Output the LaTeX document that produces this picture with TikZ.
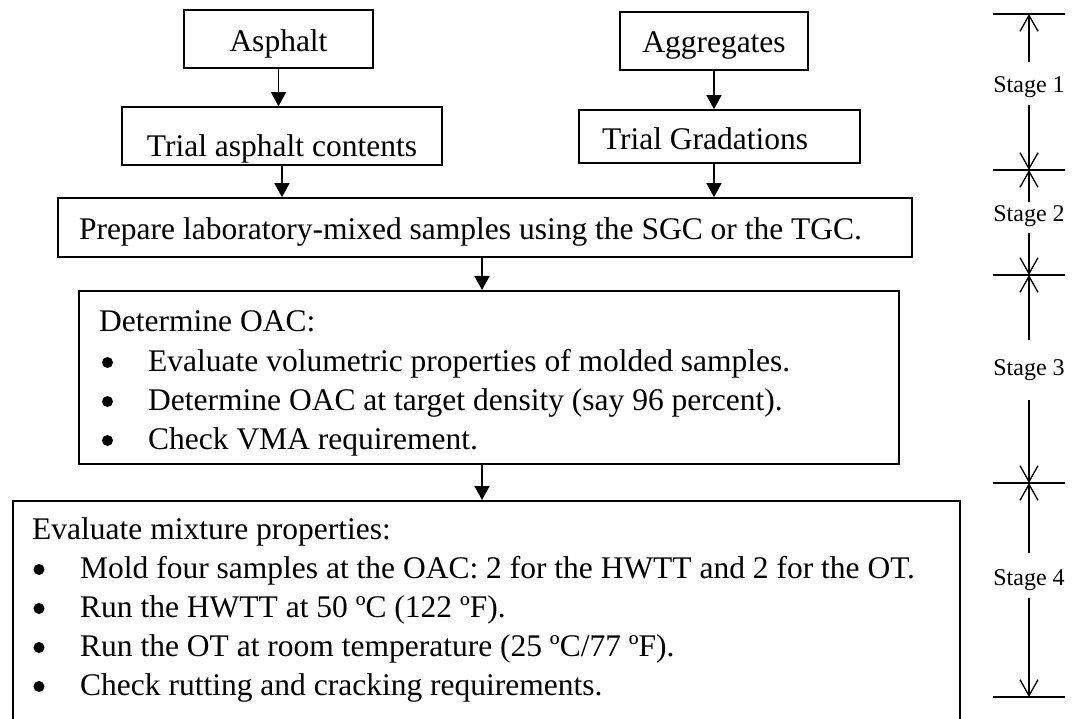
\documentclass[tikz,border=0pt]{standalone}
\usepackage{fontspec}
\setmainfont{Liberation Serif}
\usetikzlibrary{arrows.meta}

\tikzset{
	caja/.style={draw, line width=1.6pt, inner sep=0pt, text depth=4pt},
	flecha/.style={line width=1.6pt, -{Triangle[length=14pt,width=15pt]}},
	cota/.style={line width=1.3pt, -{Straight Barb[length=16pt,width=18pt,line width=1.3pt]}},
	barra/.style={line width=2.8pt},
	etapa/.style={inner sep=0pt, anchor=base, font=\fontsize{24}{28}\selectfont},
	linea/.style={inner sep=0pt, anchor=base west},
	punto/.style={circle, fill, inner sep=0pt, minimum size=11pt},
}

\begin{document}
\begin{tikzpicture}[x=1pt, y=-1pt, font=\fontsize{31.5}{39}\selectfont]
	\useasboundingbox (0,0) rectangle (1082,719);
	\clip (0,0) rectangle (1082,719);

	% Materiales
		\node[caja, minimum width=189pt, minimum height=58pt, text height=29.4pt] (asf) at (278.5,39) {Asphalt};
		\node[caja, minimum width=188pt, minimum height=58pt, text height=28pt] (agr) at (714,41) {Aggregates};

	% Pruebas
		\node[caja, minimum width=320pt, minimum height=58pt, text height=46pt] (tac) at (282,136) {Trial asphalt contents};
		\node[caja, minimum width=281pt, minimum height=53pt, text height=31pt, inner xsep=23pt, text width=235pt, align=flush left] (tgr) at (719.5,136.5) {Trial Gradations};

	% Mezclas de laboratorio
		\node[caja, minimum width=854pt, minimum height=59pt, text height=29pt, inner xsep=21pt, text width=812pt, align=flush left] (prep) at (485,227.5) {Prepare laboratory-mixed samples using the SGC or the TGC.};
		\coordinate (eje) at (482,0);

	% Contenido optimo
		\node[caja, minimum width=820pt, minimum height=173pt, anchor=north west] (oac) at (78,290) {};
		\node[linea] (oact) at (99,332) {Determine OAC:};
		\foreach \t [count=\i] in {{Evaluate volumetric properties of molded samples.}, {Determine OAC at target density (say 96 percent).}, {Check VMA requirement.}}
		{
			\node[punto] (oacp\i) at (107.5,{323.5+39*\i}) {};
			\node[linea] (oacl\i) at (148,{332+39*\i}) {\t};
		}

	% Propiedades de la mezcla
		\node[caja, minimum width=947pt, minimum height=240pt, anchor=north west] (eva) at (12,500) {};
		\node[linea] (evat) at (32,539) {Evaluate mixture properties:};
		\foreach \t [count=\i] in {{Mold four samples at the OAC: 2 for the HWTT and 2 for the OT.}, {Run the HWTT at 50 ºC (122 ºF).}, {Run the OT at room temperature (25 ºC/77 ºF).}, {Check rutting and cracking requirements.}}
		{
			\node[punto] (evap\i) at (39,{530.5+39*\i}) {};
			\node[linea] (eval\i) at (80,{539+39*\i}) {\t};
		}

	% Flechas
		\draw[flecha] (asf.south) -- (asf.south |- tac.north);
		\draw[flecha] (agr.south) -- (agr.south |- tgr.north);
		\draw[flecha] (tac.south) -- (tac.south |- prep.north);
		\draw[flecha] (agr.south |- tgr.south) -- (agr.south |- prep.north);
		\draw[flecha] (prep.south -| eje) -- (oac.north -| eje);
		\draw[flecha] (oac.south -| eje) -- (eva.north -| eje);

	% Etapas
		\foreach \y [count=\i from 0] in {14,170,275,483,697}
		{
			\coordinate (b\i) at (1029,\y);
			\draw[barra] ([xshift=-36pt]b\i) -- ([xshift=36pt]b\i);
		}
		\node[etapa, text height=31pt, text depth=12pt] (e1) at (1029,93) {Stage 1};
		\node[etapa, text height=20pt, text depth=11pt] (e2) at (1029,222) {Stage 2};
		\node[etapa, text height=36pt, text depth=24pt] (e3) at (1029,376) {Stage 3};
		\node[etapa, text height=32pt, text depth=13pt] (e4) at (1029,585) {Stage 4};
		\foreach \i [evaluate=\i as \j using int(\i-1)] in {1,2,3,4}
		{
			\draw[cota] (e\i.north) -- (b\j);
			\draw[cota] (e\i.south) -- (b\i);
		}
\end{tikzpicture}
\end{document}
